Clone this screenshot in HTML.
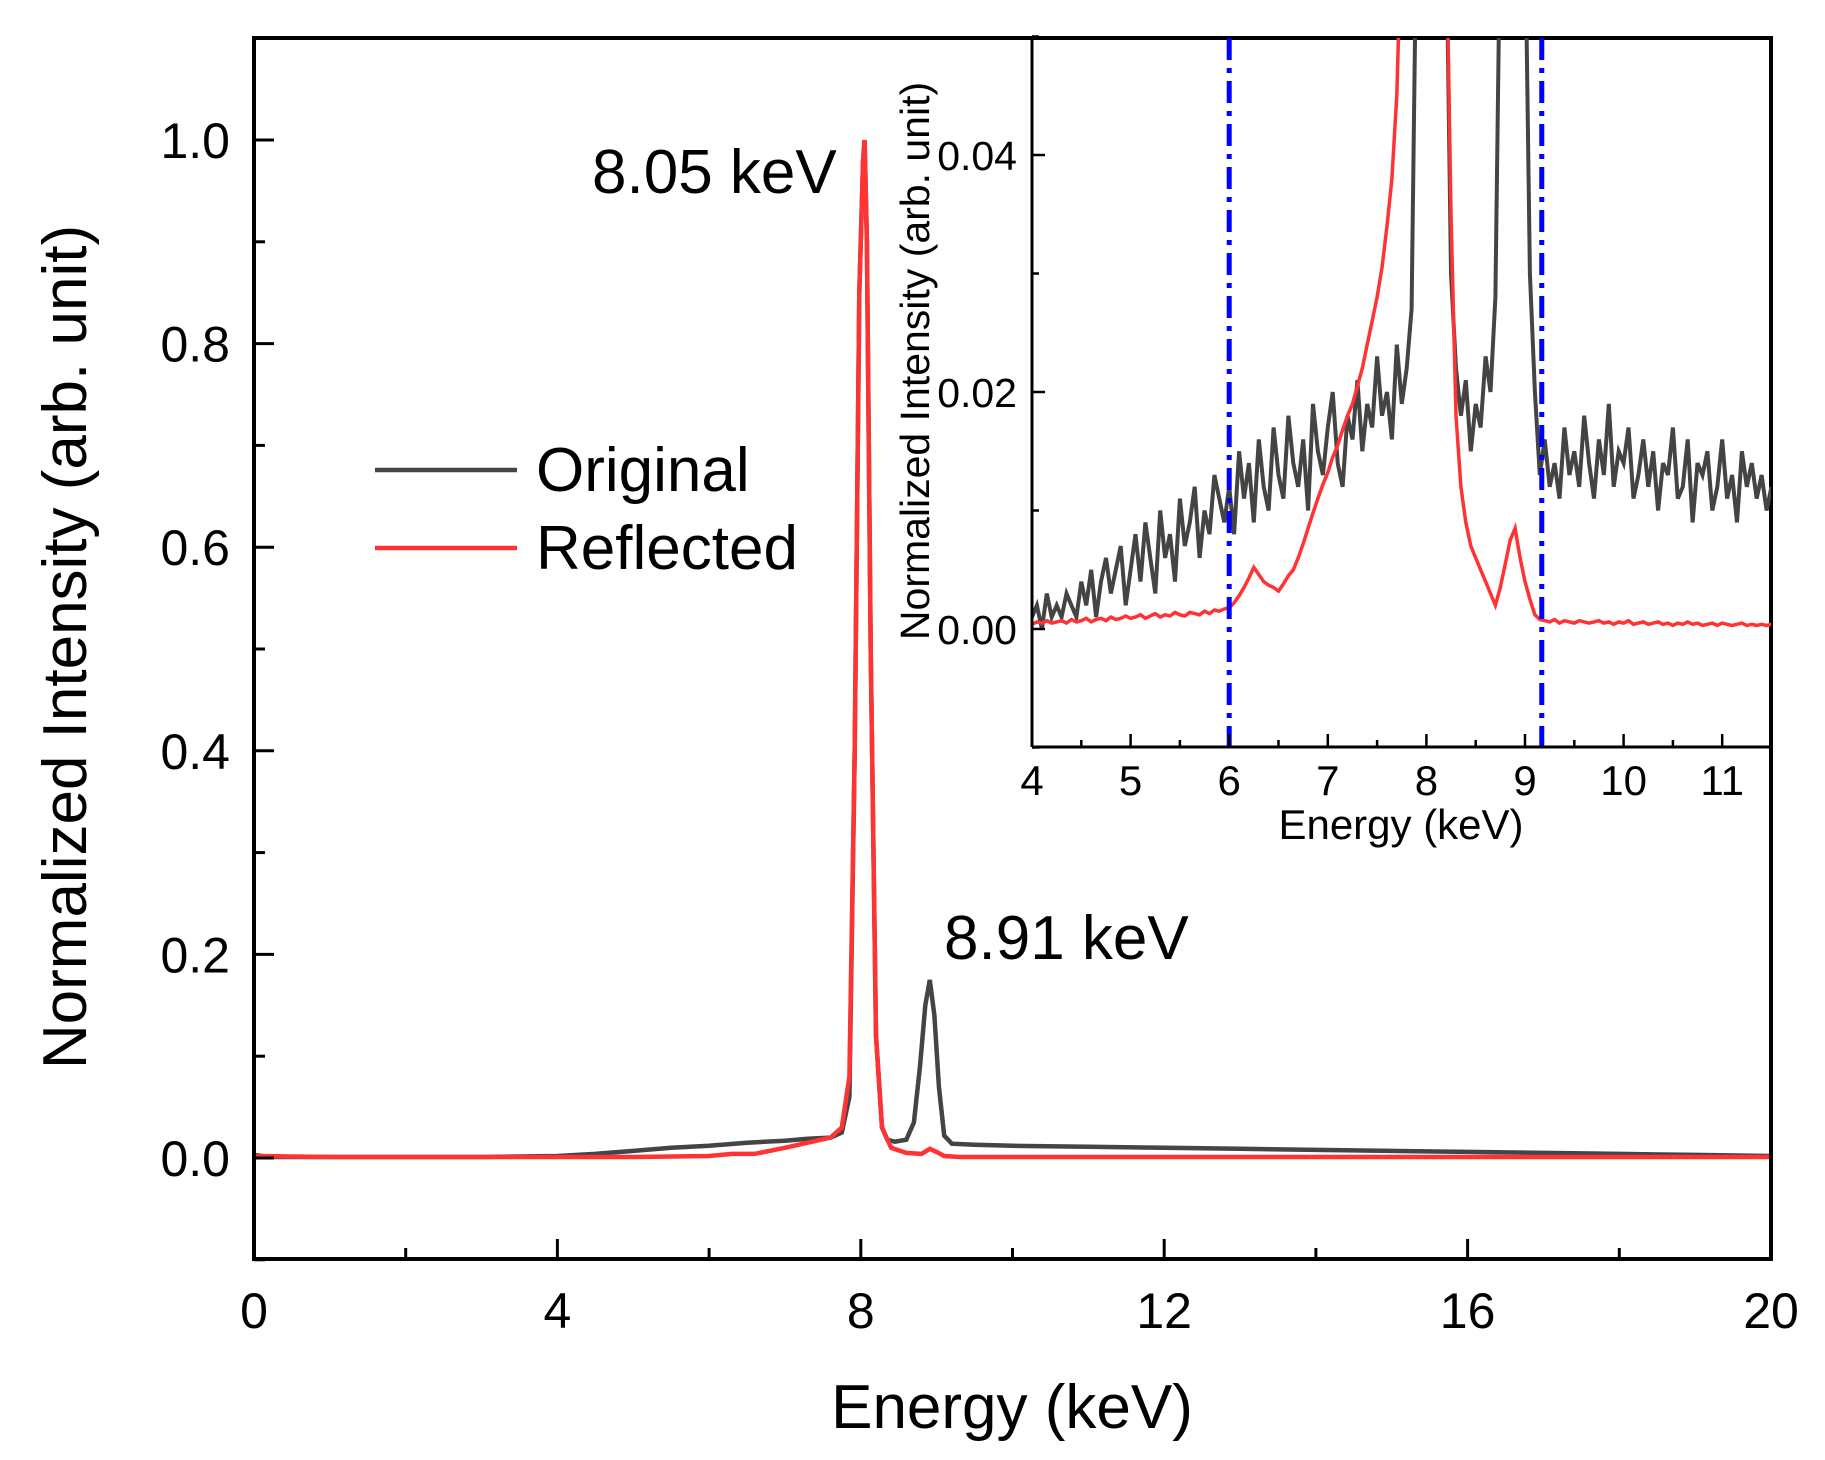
<!DOCTYPE html>
<html><head><meta charset="utf-8"><style>html,body{margin:0;padding:0;background:#fff}svg{display:block}text{font-family:"Liberation Sans",Arial,sans-serif}</style></head>
<body>
<svg id="c" width="1825" height="1460" viewBox="0 0 1825 1460">
<text x="1012" y="1428" font-size="62" text-anchor="middle">Energy (keV)</text>
<text transform="translate(86,647) rotate(-90)" font-size="62" text-anchor="middle">Normalized Intensity (arb. unit)</text>
<text x="592" y="193" font-size="62">8.05 keV</text>
<text x="944" y="959" font-size="62">8.91 keV</text>
<g>
<line x1="375" x2="517" y1="470" y2="470" stroke="#444" stroke-width="4.5"/>
<text x="536" y="491" font-size="62">Original</text>
<line x1="375" x2="517" y1="548" y2="548" stroke="#f33" stroke-width="4.5"/>
<text x="536" y="569" font-size="62">Reflected</text>
</g>
</svg>
<script>
// ---- main chart data ----
const mainOrigE=[0,0.2,1,2,3,4,4.5,5,5.5,6,6.5,7,7.3,7.6,7.75,7.85,7.92,7.98,8.03,8.05,8.08,8.13,8.2,8.28,8.35,8.45,8.6,8.7,8.78,8.85,8.91,8.97,9.03,9.1,9.2,9.5,10,11,12,13,14,15,16,17,18,19,20];
const mainOrigV=[0.003,0.001,0.001,0.001,0.001,0.002,0.004,0.007,0.010,0.012,0.015,0.017,0.019,0.02,0.025,0.06,0.4,0.85,0.98,1.0,0.9,0.5,0.12,0.03,0.018,0.016,0.018,0.035,0.09,0.15,0.175,0.14,0.07,0.022,0.014,0.013,0.012,0.011,0.010,0.009,0.008,0.007,0.006,0.005,0.004,0.003,0.002];
const mainReflE=[0,1,2,3,4,5,6,6.3,6.6,7,7.3,7.6,7.75,7.85,7.92,7.98,8.03,8.05,8.08,8.13,8.2,8.28,8.4,8.6,8.8,8.91,9.0,9.1,9.3,12,16,20];
const mainReflV=[0.002,0.001,0.001,0.001,0.001,0.001,0.002,0.004,0.004,0.01,0.015,0.02,0.03,0.08,0.4,0.85,0.98,1.0,0.9,0.5,0.12,0.03,0.01,0.005,0.004,0.009,0.006,0.002,0.001,0.001,0.001,0.001];
const mainXTicks=[0,4,8,12,16,20];
const mainYTicks=[0.0,0.2,0.4,0.6,0.8,1.0];
// ---- inset data (units of 0.001), 4.0 to 11.5 keV in 0.05 keV steps ----
const insetStart=4.0, insetStep=0.05;
const insetOrig=[1,2,0,3,1,2,1,3,2,1,
4,2,5,1,4,6,3,5,7,2,
5,8,4,9,6,3,10,6,8,4,
11,7,9,12,6,10,8,13,11,9,
12,8,15,11,14,9,16,12,10,17,
13,11,18,14,12,16,10,19,15,13,
17,20,14,12,18,16,21,15,19,17,
23,18,20,16,24,19,22,27,60,60,
60,60,60,60,60,30,22,18,21,15,
19,17,23,20,28,60,60,60,60,60,
60,30,20,13,16,12,14,11,17,13,
15,12,18,14,11,16,13,19,12,15,
14,17,11,13,16,12,15,10,14,13,
17,11,12,16,9,14,13,15,10,12,
16,11,13,9,15,12,14,11,13,10,12];
const insetRefl=[0.4,0.6,0.5,0.7,0.5,0.6,0.7,0.5,0.8,0.6,
0.7,0.9,0.6,0.8,0.9,0.7,1.0,0.8,0.9,1.1,
0.9,1.0,1.2,0.9,1.1,1.3,1.0,1.2,1.1,1.4,
1.2,1.1,1.4,1.3,1.2,1.5,1.3,1.6,1.5,1.7,
1.8,2.2,2.8,3.5,4.3,5.2,4.6,4.0,3.7,3.5,
3.2,3.8,4.5,5.0,6.0,7.2,8.5,9.8,11.0,12.2,
13.2,14.5,15.5,16.8,18.0,19.0,20.5,22.0,24.0,26.0,
28.0,30.5,34.0,38.0,45.0,60,60,60,60,60,
60,60,60,60,60,35,18,12,9,7,
6,5,4,3,2,3.5,5.5,7.5,8.5,6,
4,2.5,1.2,0.8,0.7,0.6,0.8,0.5,0.7,0.6,
0.5,0.7,0.6,0.5,0.6,0.7,0.5,0.6,0.4,0.6,
0.5,0.7,0.4,0.5,0.6,0.4,0.5,0.6,0.4,0.5,
0.3,0.5,0.4,0.6,0.4,0.5,0.3,0.4,0.5,0.3,
0.5,0.4,0.3,0.4,0.5,0.3,0.4,0.3,0.4,0.3,0.4];
const insetXTicks=[4,5,6,7,8,9,10,11];
const insetYTicks=[0.00,0.02,0.04];
const cutLines=[6.0,9.17];

const NS='http://www.w3.org/2000/svg', svg=document.getElementById('c');
function mk(tag,attrs,parent){const e=document.createElementNS(NS,tag);for(const k in attrs)e.setAttribute(k,attrs[k]);(parent||svg).appendChild(e);return e;}
const L=254,R=1771,T=38,B=1259;
const mx=v=>L+v/20*(R-L), my=v=>1158-v*1018;
const IL=1032,IR=1771,IT=38,IB=747;
const ix=v=>IL+(v-4)*98.6, iy=v=>629-v*11850;

const defs=mk('defs',{});
const cp=mk('clipPath',{id:'mclip'},defs);mk('rect',{x:L,y:T,width:R-L,height:B-T},cp);
const cp2=mk('clipPath',{id:'iclip'},defs);mk('rect',{x:IL,y:IT,width:IR-IL,height:IB-IT},cp2);

function pts(E,V,fx,fy){return E.map((e,i)=>fx(e).toFixed(1)+','+fy(V[i]).toFixed(1)).join(' ');}
let p=mk('polyline',{points:pts(mainOrigE,mainOrigV,mx,my),fill:'none',stroke:'#444',"stroke-width":4.5,'clip-path':'url(#mclip)'});


p=mk('polyline',{points:pts(mainReflE,mainReflV,mx,my),fill:'none',stroke:'#f33',"stroke-width":4.5,'clip-path':'url(#mclip)'});



let f=mk('rect',{x:L,y:T,width:R-L,height:B-T,fill:'none',stroke:'#000','stroke-width':4});


for(let v=0;v<=20;v+=2){const maj=mainXTicks.includes(v);mk('line',{x1:mx(v),x2:mx(v),y1:B,y2:B-(maj?20:11),stroke:'#000','stroke-width':3});}
mainXTicks.forEach(v=>{const t=mk('text',{x:mx(v),y:1328,'font-size':50,'text-anchor':'middle'});t.textContent=v;

});
for(let i=-1;i<=11;i++){const v=i/10;const maj=i>=0&&i%2==0;mk('line',{x1:L,x2:L+(maj?20:11),y1:my(v),y2:my(v),stroke:'#000','stroke-width':3});}
mainYTicks.forEach(v=>{const t=mk('text',{x:230,y:my(v)+18,'font-size':50,'text-anchor':'end'});t.textContent=v.toFixed(1);

});

// inset
p=mk('polyline',{points:insetOrig.map((v,i)=>ix(insetStart+i*insetStep).toFixed(1)+','+iy(v/1000).toFixed(1)).join(' '),fill:'none',stroke:'#444','stroke-width':4,'clip-path':'url(#iclip)'});


p=mk('polyline',{points:insetRefl.map((v,i)=>ix(insetStart+i*insetStep).toFixed(1)+','+iy(v/1000).toFixed(1)).join(' '),fill:'none',stroke:'#f33','stroke-width':3.5,'clip-path':'url(#iclip)'});


cutLines.forEach(v=>{const l=mk('line',{x1:ix(v),x2:ix(v),y1:IT,y2:IB,stroke:'#00f','stroke-width':5,'stroke-dasharray':'22 8 5 8'});

});
mk('line',{x1:IL,x2:IL,y1:IT,y2:IB,stroke:'#000','stroke-width':3});
mk('line',{x1:IL,x2:IR,y1:IB,y2:IB,stroke:'#000','stroke-width':3});
for(let v=4;v<=11.5;v+=0.5){const maj=Number.isInteger(v);mk('line',{x1:ix(v),x2:ix(v),y1:IB,y2:IB-(maj?13:7),stroke:'#000','stroke-width':2.5});}
insetXTicks.forEach(v=>{const t=mk('text',{x:ix(v),y:795,'font-size':42,'text-anchor':'middle'});t.textContent=v;

});
for(let i=-1;i<=5;i++){const v=i/100;const maj=i%2==0;mk('line',{x1:IL,x2:IL+(maj?13:7),y1:iy(v),y2:iy(v),stroke:'#000','stroke-width':2.5});}
insetYTicks.forEach(v=>{const t=mk('text',{x:1017,y:iy(v)+15,'font-size':41,'text-anchor':'end'});t.textContent=v.toFixed(2);

});
let t=mk('text',{x:1401,y:839,'font-size':42,'text-anchor':'middle'});t.textContent='Energy (keV)';


t=mk('text',{transform:'translate(929,361) rotate(-90)','font-size':41,'text-anchor':'middle'});t.textContent='Normalized Intensity (arb. unit)';


</script>
</body></html>
